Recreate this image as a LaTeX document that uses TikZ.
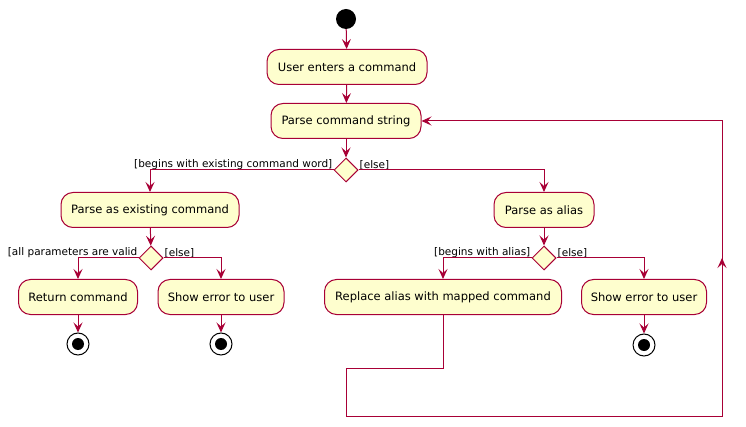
\documentclass[tikz,border=0pt]{standalone}
\usepackage{fontspec}
\setmainfont{DejaVu Sans}
\usetikzlibrary{arrows.meta,shapes.geometric}
\definecolor{umlred}{HTML}{A80036}
\definecolor{umlfill}{HTML}{FEFECE}

\tikzset{
	act/.style={draw=umlred, fill=umlfill, line width=1pt, rounded corners=12pt,
		minimum height=35pt, inner xsep=6pt, font=\fontsize{11.5}{14}\selectfont},
	choice/.style={diamond, draw=umlred, fill=umlfill, line width=1pt,
		minimum width=24pt, minimum height=24pt, inner sep=0pt},
	flow/.style={draw=umlred, line width=1pt, -{Stealth[length=10pt,width=9pt,inset=4pt]}},
	guard/.style={font=\fontsize{10.5}{12}\selectfont, inner sep=1pt},
	startdot/.style={circle, fill=black, minimum size=20pt, inner sep=0pt},
	stopdot/.style={circle, draw=black, fill=white, line width=1pt, minimum size=22pt, inner sep=0pt,
		path picture={\fill[black] (path picture bounding box.center) circle (6pt);}},
}

\begin{document}
\begin{tikzpicture}[x=1pt, y=-1pt]
		\useasboundingbox (0,0) rectangle (746,427);
		
		% THE MAIN LINE
		\node[startdot] (start) at (346,19) {};
		\node[act, minimum width=160pt] (enter) at (347,67) {User enters a command};
		\node[act, minimum width=150pt] (parse) at (346,121) {Parse command string};
		\node[choice] (isword) at (346,170) {};
		%
		% LEFT SIDE
		\node[act, minimum width=178pt] (existing) at (150,210) {Parse as existing command};
		\node[choice] (isvalid) at (151,258) {};
		\node[act, minimum width=119pt] (retcmd) at (78,297) {Return command};
		\node[act, minimum width=126pt] (errleft) at (221,297) {Show error to user};
		\node[stopdot] (stopa) at (78,344) {};
		\node[stopdot] (stopb) at (221,344) {};
		%
		% RIGHT SIDE
		\node[act, minimum width=100pt] (alias) at (544,210) {Parse as alias};
		\node[choice] (isalias) at (544,258) {};
		\node[act, minimum width=237pt] (replace) at (443,297) {Replace alias with mapped command};
		\node[act, minimum width=125pt] (errright) at (644,297) {Show error to user};
		\node[stopdot] (stopc) at (644,345) {};
		%
		% THE GUARDS
		\node[guard, anchor=south east] (gword) at ([yshift=-1pt]isword.west) {[begins with existing command word]};
		\node[guard, anchor=south west] (gelsea) at ([yshift=-1pt]isword.east) {[else]};
		\node[guard, anchor=south east] (gvalid) at ([yshift=-1pt]isvalid.west) {[all parameters are valid};
		\node[guard, anchor=south west] (gelseb) at ([yshift=-1pt]isvalid.east) {[else]};
		\node[guard, anchor=south east] (galias) at ([yshift=-1pt]isalias.west) {[begins with alias]};
		\node[guard, anchor=south west] (gelsec) at ([yshift=-1pt]isalias.east) {[else]};
		%
		% THE ARROWS
		\draw[flow] (start) -- (enter);
		\draw[flow] (enter) -- (parse);
		\draw[flow] (parse) -- (isword);
		\draw[flow] (isword.west) -| (existing.north);
		\draw[flow] (isword.east) -| (alias.north);
		\draw[flow] (existing) -- (isvalid);
		\draw[flow] (isvalid.west) -| (retcmd.north);
		\draw[flow] (isvalid.east) -| (errleft.north);
		\draw[flow] (retcmd) -- (stopa);
		\draw[flow] (errleft) -- (stopb);
		\draw[flow] (alias) -- (isalias);
		\draw[flow] (isalias.west) -| (replace.north);
		\draw[flow] (isalias.east) -| (errright.north);
		\draw[flow] (errright) -- (stopc);
		%
		% THE LOOP BACK
		\coordinate (loopa) at (346,368);
		\coordinate (loopb) at (722,416);
		\coordinate (loopc) at (722,258);
		\draw[flow] (replace.south) |- (loopa) |- (loopb) |- (parse.east);
		\draw[flow] (loopb) -- (loopc);
	\end{tikzpicture}
\end{document}
